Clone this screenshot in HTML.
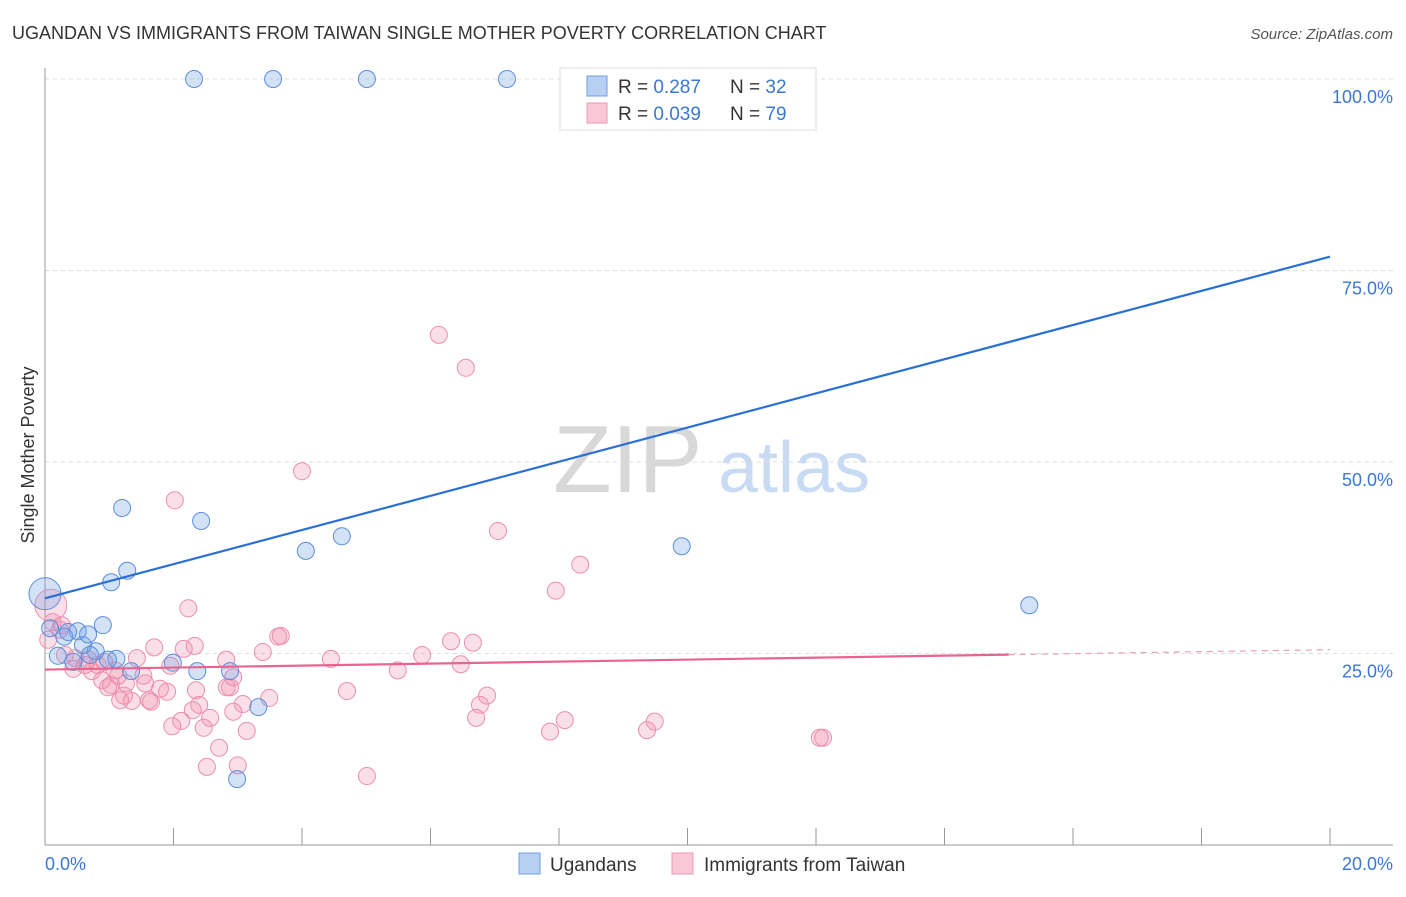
<!DOCTYPE html>
<html><head><meta charset="utf-8"><style>
body{margin:0;background:#fff;font-family:"Liberation Sans",sans-serif}
svg text{font-family:"Liberation Sans",sans-serif}
</style></head><body>
<svg id="c" width="1406" height="892" xmlns="http://www.w3.org/2000/svg">
<text x="12" y="39" font-size="18" fill="#333">UGANDAN VS IMMIGRANTS FROM TAIWAN SINGLE MOTHER POVERTY CORRELATION CHART</text>
<text x="1393" y="39" font-size="15" fill="#555" font-style="italic" text-anchor="end">Source: ZipAtlas.com</text>
<text transform="translate(34,455) rotate(-90)" font-size="18" fill="#333" text-anchor="middle">Single Mother Poverty</text>
<g><text x="553" y="492" font-size="96" fill="#d8d8d8" font-family="Liberation Serif">ZIP</text><text x="718" y="492" font-size="72" fill="#c9dbf3">atlas</text></g>
<g id="grid"></g><g id="axes"></g><g id="pts"></g><g id="trend"></g>
<g>
<rect x="560" y="68" width="256" height="62" fill="#fff" stroke="#ddd"/>
<rect x="587" y="76" width="20" height="20" fill="#b7d0f2" stroke="#6e9ee0"/>
<rect x="587" y="103" width="20" height="20" fill="#f9c7d6" stroke="#ec9ab3"/>
<text x="618" y="93" font-size="19" fill="#333">R = <tspan fill="#3a78d4">0.287</tspan><tspan x="730">N = </tspan><tspan fill="#3a78d4">32</tspan></text>
<text x="618" y="120" font-size="19" fill="#333">R = <tspan fill="#3a78d4">0.039</tspan><tspan x="730">N = </tspan><tspan fill="#3a78d4">79</tspan></text>
</g>
<g>
<rect x="519" y="853" width="21" height="21" fill="#b7d0f2" stroke="#6e9ee0"/>
<text x="550" y="871" font-size="19" fill="#333">Ugandans</text>
<rect x="672" y="853" width="21" height="21" fill="#f9c7d6" stroke="#ec9ab3"/>
<text x="704" y="871" font-size="19" fill="#333">Immigrants from Taiwan</text>
</g>
</svg>
<script>
const yTicks=[25,50,75,100];
const yTickLabels=["25.0%","50.0%","75.0%","100.0%"];
const xTickCount=10;
const blueX=[2.32,3.55,5.01,7.19,1.20,2.43,4.06,4.62,9.91,15.32,1.28,1.03,0,0.90,0.51,0.30,0.79,0.59,0.20,0.44,1.11,1.99,1.34,2.37,2.88,3.32,2.99,0.36,0.67,0.08,0.98,0.70];
const blueY=[100,100,100,100,44.0,42.3,38.4,40.3,39.0,31.3,35.8,34.3,32.8,28.7,27.9,27.2,25.3,26.1,24.7,23.9,24.3,23.8,22.7,22.7,22.7,18.0,8.6,27.8,27.5,28.3,24.2,24.8];
const blueBig=[12];
const pinkX=[6.13,6.55,4.0,2.02,7.05,8.33,7.95,2.23,3.63,3.67,2.33,2.16,1.70,3.39,2.82,1.43,4.45,6.32,6.66,5.87,6.47,5.49,4.70,6.88,6.77,6.71,7.86,8.09,9.37,9.49,12.06,12.11,5.01,2.52,3.0,2.71,3.14,2.47,1.98,2.12,2.30,2.40,2.57,2.93,3.08,3.49,2.88,2.83,1.79,1.90,1.56,1.26,0.98,0.89,1.14,1.35,1.17,1.65,0.73,0.62,0.44,0.82,0.23,0.26,0.09,0.05,0.31,1.09,1.53,1.95,0.67,1.03,1.62,2.35,0.12,0.47,0.92,1.23,2.93];
const pinkY=[66.6,62.3,48.8,45.0,41.0,36.6,33.2,30.9,27.2,27.3,26.0,25.6,25.8,25.2,24.2,24.4,24.3,26.6,26.4,24.8,23.6,22.8,20.1,19.5,18.3,16.6,14.8,16.3,15.0,16.1,14.0,14.0,9.0,10.2,10.4,12.7,14.9,15.3,15.5,16.2,17.6,18.3,16.6,17.4,18.4,19.2,20.6,20.6,20.4,20.0,21.1,21.1,20.6,21.5,22.1,18.8,18.9,18.7,22.7,23.5,23.0,23.5,28.1,28.7,31.3,26.8,24.8,22.8,22.1,23.4,24.2,20.9,18.9,20.2,29.1,24.4,23.9,19.5,21.9];
const pinkBig=[64];
const blueTrend=[32.2,76.8]; // y at x=0 and x=20
const pinkTrend=[22.9,25.5];
const pinkSolidEnd=15;

const X0=45,X1=1330,Y0=845,Y100=79;
const sx=v=>X0+(X1-X0)*v/20;
const sy=v=>Y0-(Y0-Y100)*v/100;
const NS="http://www.w3.org/2000/svg";
function mk(p,t,a){const e=document.createElementNS(NS,t);for(const k in a)e.setAttribute(k,a[k]);p.appendChild(e);return e;}
const grid=document.getElementById('grid'),axes=document.getElementById('axes'),pts=document.getElementById('pts'),tr=document.getElementById('trend');
yTicks.forEach((t,i)=>{
 const l=mk(grid,'line',{x1:X0,x2:1393,y1:sy(t),y2:sy(t),stroke:'#ddd','stroke-dasharray':'4,4'});
 
 
 const tx=mk(grid,'text',{x:1393,y:sy(t)+24,'font-size':18,fill:'#3a78d4','text-anchor':'end'});
 tx.textContent=yTickLabels[i];
 
 
});
const ya=mk(axes,'line',{x1:X0,x2:X0,y1:68,y2:Y0,stroke:'#999'});


const xa=mk(axes,'line',{x1:X0,x2:1393,y1:Y0,y2:Y0,stroke:'#999'});


for(let i=1;i<=xTickCount;i++){
 const t=mk(axes,'line',{x1:sx(i*2),x2:sx(i*2),y1:828,y2:Y0,stroke:'#999'});
 
 
}
const xl0=mk(axes,'text',{x:X0,y:870,'font-size':18,fill:'#3a78d4'});xl0.textContent='0.0%';


const xl1=mk(axes,'text',{x:1393,y:870,'font-size':18,fill:'#3a78d4','text-anchor':'end'});xl1.textContent='20.0%';


pinkX.forEach((x,i)=>{
 const c=mk(pts,'circle',{cx:sx(x),cy:sy(pinkY[i]),r:pinkBig.includes(i)?16:8.5,fill:'rgba(242,140,172,0.28)',stroke:'#ec8fad','stroke-width':1});
 
 
});
blueX.forEach((x,i)=>{
 const c=mk(pts,'circle',{cx:sx(x),cy:sy(blueY[i]),r:blueBig.includes(i)?16:8.5,fill:'rgba(110,160,230,0.3)',stroke:'#5a8fdc','stroke-width':1});
 
 
});
const bl=mk(tr,'line',{x1:sx(0),y1:sy(blueTrend[0]),x2:sx(20),y2:sy(blueTrend[1]),stroke:'#2a6fd6','stroke-width':2.2});


const pe=pinkTrend[0]+(pinkTrend[1]-pinkTrend[0])*pinkSolidEnd/20;
const pl=mk(tr,'line',{x1:sx(0),y1:sy(pinkTrend[0]),x2:sx(pinkSolidEnd),y2:sy(pe),stroke:'#e8648f','stroke-width':2.2});


const pd=mk(tr,'line',{x1:sx(pinkSolidEnd),y1:sy(pe),x2:sx(20),y2:sy(pinkTrend[1]),stroke:'#e8a0b8','stroke-width':1.2,'stroke-dasharray':'6,5'});


</script>
</body></html>
